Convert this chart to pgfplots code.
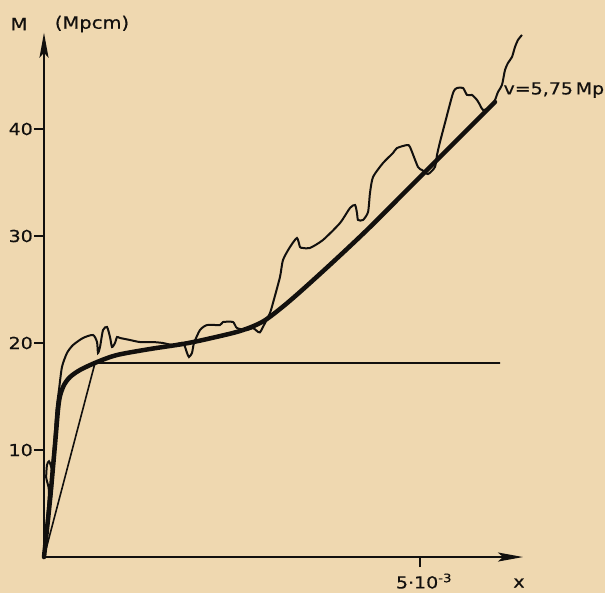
\documentclass[border=0pt]{standalone}
\usepackage{pgfplots}
\pgfplotsset{compat=1.18}
\usepackage{fontspec}
\setmainfont{DejaVu Sans}[FakeStretch=1.15, FakeBold=0.6]
\usetikzlibrary{arrows.meta,backgrounds}
\definecolor{paper}{RGB}{239,216,176}
\definecolor{ink}{RGB}{18,16,14}
\begin{document}
\begin{tikzpicture}
\begin{axis}[
  scale only axis, width=479pt, height=524.3pt,
  xmin=0, xmax=6.37, ymin=0, ymax=49,
  axis lines=left,
  axis line style={line width=2pt, draw=ink},
  x axis line style={-{Stealth[length=25pt,width=9pt,inset=5pt]}},
  y axis line style={-{Stealth[length=25pt,width=9pt,inset=5pt]}},
  xtick={5}, xticklabels={5·10\textsuperscript{-3}},
  ytick={10,20,30,40}, yticklabels={10,20,30,40},
  tick align=outside, major tick length=10pt,
  tick style={line width=1.6pt, draw=ink},
  ticklabel style={font=\fontsize{16.5}{18}\selectfont, text=ink},
  yticklabel style={inner sep=1pt},
  xticklabel style={xshift=4pt, yshift=-3pt},
  clip=false,
]
\coordinate (BL) at (axis cs:-0.585,-3.364);
\coordinate (TR) at (axis cs:7.460,52.056);

% tangent line and yield plateau
\addplot[ink, line width=1.6pt] coordinates {(0,0) (0.678,18.13) (6.064,18.13)};

% measured (thin) curve
\addplot[ink, line width=2pt, smooth, tension=0.4] coordinates {
(0,0) (0.040,3.46) (0.066,6.2) (0.030,7.4) (0.040,8.6) (0.066,8.95) (0.100,8.3)
(0.110,6.8) (0.095,5.6) (0.100,7.6) (0.135,10.6) (0.165,13.7) (0.199,15.61)
(0.239,17.76) (0.306,19.07) (0.386,19.81) (0.519,20.47) (0.652,20.75)
(0.705,20.09) (0.718,19.07) (0.745,19.63) (0.785,21.21) (0.838,21.50)
(0.878,20.56) (0.904,19.63) (0.944,20.00) (0.971,20.56) (1.011,20.47)
(1.144,20.28) (1.277,20.09) (1.449,20.09) (1.582,20.00) (1.715,19.81)
(1.848,20.00) (1.902,19.07) (1.928,18.69) (1.968,19.07) (1.995,20.00)
(2.074,21.21) (2.168,21.68) (2.340,21.68) (2.380,21.96) (2.513,21.96)
(2.566,21.40) (2.699,21.21) (2.779,21.40) (2.832,21.12) (2.872,21.0)
(2.939,21.87) (3.005,22.80) (3.045,23.74) (3.138,26.17) (3.178,27.76)
(3.271,28.97) (3.364,29.81) (3.404,28.97) (3.444,28.88) (3.537,28.88)
(3.710,29.63) (3.936,31.21) (4.069,32.62) (4.136,32.90) (4.162,32.15)
(4.176,31.50) (4.242,31.50) (4.309,32.24) (4.335,34.02) (4.375,35.51)
(4.508,36.82) (4.641,37.76) (4.694,38.22) (4.827,38.50) (4.867,38.32)
(4.973,36.45) (5.027,36.17) (5.106,35.79) (5.199,36.45) (5.226,37.57)
(5.266,38.79) (5.332,40.56) (5.439,43.36) (5.492,43.83) (5.572,43.83)
(5.625,43.18) (5.691,43.18) (5.758,42.71) (5.798,42.24) (5.838,41.78)
(5.931,42.0) (5.997,42.71) (6.037,43.46) (6.090,44.11) (6.130,45.51)
(6.170,46.17) (6.223,46.73) (6.263,47.66) (6.303,48.32) (6.356,48.79)
};

% fitted (thick) curve
\addplot[ink, line width=4.5pt, smooth, tension=0.5, line cap=round] coordinates {
(0,0) (0.080,5.33) (0.146,10.47) (0.186,13.74) (0.213,15.05) (0.266,16.07)
(0.346,16.82) (0.479,17.48) (0.705,18.22) (0.971,18.88) (1.410,19.44)
(1.848,19.91) (2.168,20.37) (2.606,21.12) (2.899,21.96) (3.138,23.18)
(3.404,24.77) (3.843,27.57) (4.295,30.56) (4.734,33.64) (5.000,35.51)
(5.359,38.04) (5.997,42.52)
};

\node[font=\fontsize{17}{18}\selectfont, text=ink] at (axis cs:-0.332,49.81) {M};
\node[font=\fontsize{17}{18}\selectfont, text=ink] at (axis cs:0.638,49.81) {(Mpcm)};
\node[font=\fontsize{16.5}{18}\selectfont, text=ink] at (axis cs:6.316,-2.43) {x};
\node[font=\fontsize{16.5}{18}\selectfont, text=ink] at (axis cs:6.78,43.64) {v=5,75\,Mp};
\end{axis}
\pgfresetboundingbox
\path[use as bounding box] (BL) rectangle (TR);
\begin{scope}[on background layer]
\fill[paper] (BL) rectangle (TR);
\end{scope}
\end{tikzpicture}
\end{document}
